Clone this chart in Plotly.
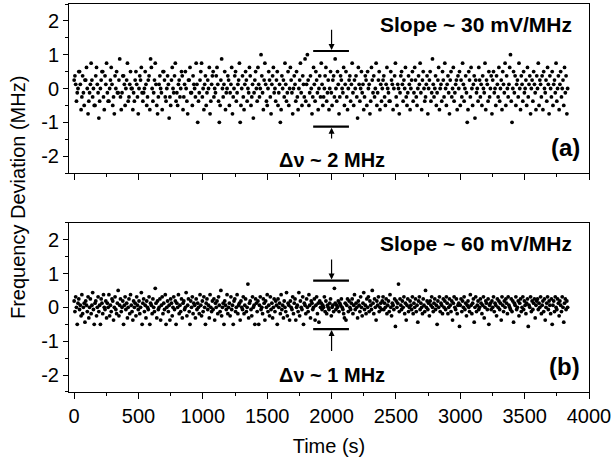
import plotly.graph_objects as go

# ---------------- data ----------------
SAMPLE_STEP_S = 6          # sampling interval (s)
STEP_A_MHZ = 0.125         # quantisation step, panel (a)
STEP_B_MHZ = 0.0625        # quantisation step, panel (b)

# panel (a): frequency deviation in quantisation steps
dev_a_steps = [
    2,3,1,-3,-1,0,4,4,1,-5,-2,3,-1,-4,2,2,5,0,-6,-3,
    -1,1,6,2,-2,0,-4,-4,3,5,1,-1,-7,-3,0,2,4,4,-2,-5,
    3,1,6,-1,-3,-3,0,2,5,1,-4,-2,-6,3,0,4,-1,-1,2,7,
    -2,-5,-1,3,3,1,-4,0,2,6,-3,-2,1,4,0,0,-5,-1,-3,2,
    4,1,-2,-6,0,3,2,5,-1,-3,-1,0,4,1,-4,-2,2,3,-5,7,
    5,0,-3,-1,2,6,1,-4,-6,-2,1,3,0,-1,-5,4,4,2,-2,-3,
    0,3,1,-7,-2,-4,2,5,0,-1,3,6,-3,-1,-4,1,2,-2,0,4,
    3,-5,-2,1,4,0,-3,-6,2,2,5,-1,-1,-4,3,1,0,-2,6,1,
    -8,-3,-1,2,4,6,-2,0,-5,1,3,-4,-1,2,0,5,-6,-3,1,3,
    4,-2,0,-1,3,5,1,-3,-8,-4,2,7,0,-2,1,4,-5,-1,0,3,
    2,-4,-1,1,5,-6,-2,0,3,4,-3,-1,1,2,6,-8,-4,0,3,-2,
    -5,1,4,2,-3,0,-1,5,3,-4,-2,1,-7,-1,2,4,0,-3,5,1,
    -2,0,8,3,-1,-5,2,6,1,-3,-4,0,4,2,-2,-6,1,3,5,-1,
    0,-3,2,4,-4,-1,1,-8,-5,3,0,2,-2,6,1,-3,-1,4,-4,0,
    5,2,-1,-6,0,3,1,-3,4,-2,-5,0,2,6,-1,-4,3,1,-2,7,
    -3,1,8,2,-4,-1,3,0,-6,-2,5,1,-3,4,2,-1,-5,0,3,-2,
    6,1,-4,-2,0,3,5,-3,-1,2,-5,0,4,-1,-4,2,3,-2,7,0,
    -3,4,1,-6,-2,3,2,0,-1,5,-4,1,4,-2,-5,0,2,3,-3,1,
    6,-1,-4,2,0,3,-2,-7,5,1,-3,0,4,-1,1,-5,-2,3,2,-4,
    4,0,1,-6,-3,5,2,-1,3,-2,0,6,-4,-1,2,4,-5,1,-3,0,
    2,3,-2,-4,1,5,0,-1,-3,-3,4,2,1,-5,0,3,6,-2,-4,1,
    0,-6,-1,3,4,1,-3,2,0,5,-2,-4,-1,3,1,-5,0,2,4,-3,
    -1,5,2,-2,-4,0,3,1,6,-1,-5,2,4,0,-3,-2,1,3,-6,0,
    2,4,-3,-1,7,1,-2,0,3,-4,-1,2,5,-5,0,1,-3,4,2,-2,
    6,0,-4,1,3,-1,-6,2,4,-2,0,5,-3,-1,1,2,-5,3,0,4,
    -4,2,-2,6,1,-3,0,3,-1,-8,-5,4,2,-2,5,0,-4,1,3,-7,
    2,-1,0,-3,5,2,-2,1,-4,3,0,-1,6,-5,2,1,-3,4,-2,0,
    3,-6,2,4,-1,0,-4,3,1,-2,5,-3,0,2,-5,4,1,-1,6,-4,
    3,0,-2,1,5,8,-3,-8,0,4,-1,3,-4,1,2,-2,6,0,-5,3,
    1,-3,4,-1,0,2,-4,5,-2,1,3,-6,0,2,-3,4,1,-1,-5,3,
    0,6,-4,2,1,-2,3,-5,4,0,-1,2,-3,5,1,-6,3,0,-2,4,
    -4,1,2,-1,6,-3,0,3,-5,1,4,-2,0,2,-4,5,-1,3,-6,0,
]

# panel (b): frequency deviation in quantisation steps
dev_b_steps = [
    3,-2,5,0,-8,2,4,-1,1,-4,6,-3,0,2,-7,3,1,-2,5,-5,
    0,4,-3,1,7,-1,-8,2,3,-4,0,5,-2,1,-8,4,2,-3,6,0,
    -1,3,-5,2,0,6,-4,1,-2,4,3,-6,0,5,-1,-3,2,8,-4,1,
    4,-2,0,3,-8,1,5,-1,2,-5,0,4,-3,6,1,-2,-6,3,0,2,
    -4,5,1,-1,3,-3,0,7,-8,2,4,-2,1,-5,3,0,-1,5,-8,2,
    1,-3,4,0,-2,9,2,-5,3,-1,0,4,-6,1,5,-3,2,-1,6,-8,
    0,3,-2,1,-6,4,2,-4,0,5,-1,3,-8,2,0,6,-3,1,-2,4,
    -5,2,3,-1,0,7,-4,1,4,-2,-8,3,0,5,-3,2,1,-5,4,-1,
    2,0,-3,6,1,-4,3,-2,5,0,-8,2,4,-1,1,-5,6,0,-2,3,
    -1,4,-6,2,0,3,-3,5,1,-2,8,-4,0,2,-8,3,1,-1,6,-3,
    0,2,-4,5,-1,1,-8,3,4,-2,0,6,-3,1,2,-6,3,0,-1,5,
    -3,1,4,-2,0,11,-5,2,3,-1,-4,5,0,1,-8,4,2,-2,3,-8,
    1,5,-1,0,-3,4,2,-6,3,0,6,-2,1,-4,5,-1,2,-5,0,4,
    -2,3,1,-8,4,0,2,-3,6,-1,1,-5,3,0,-2,7,-4,2,1,-6,
    3,0,-1,5,-3,2,4,-6,0,1,-2,7,-4,3,0,-1,5,-8,2,1,
    -3,4,0,-2,6,1,-5,3,2,-1,0,4,-6,1,5,-3,2,-7,3,0,
    2,-1,1,0,5,-2,3,-3,1,0,-1,2,4,-4,0,1,-2,9,2,-1,
    1,0,3,-2,2,1,4,0,-1,-3,-5,2,-6,1,4,-2,3,0,-1,2,
    4,-3,1,6,-1,2,0,-5,3,1,-2,5,0,-4,2,7,-1,1,-3,4,
    0,5,-2,3,1,-1,8,2,-3,4,0,-6,3,1,5,-2,0,2,-1,3,
    5,-1,2,0,4,-3,1,3,-2,6,0,-4,2,1,-1,4,-9,3,0,2,
    11,-2,4,1,-1,3,0,5,-3,2,-6,1,4,-2,0,3,1,-1,5,-3,
    2,0,4,-2,1,-7,3,5,-1,2,0,-3,4,1,-2,8,0,3,-1,2,
    -4,3,1,5,0,-2,2,4,-1,1,-8,3,0,5,-2,2,1,-3,4,0,
    3,-1,5,2,-3,0,4,1,-2,3,-6,2,5,0,-1,4,-3,1,2,-9,
    1,4,-2,3,0,5,-1,2,-4,1,3,0,-2,6,1,-3,2,4,-7,0,
    5,-2,1,3,-1,0,4,2,-3,1,5,-5,0,3,2,-1,4,-8,1,2,
    -1,3,0,5,-2,2,1,-4,4,0,3,-1,2,-6,5,1,-2,3,0,4,
    2,-3,5,1,0,-1,4,-2,3,-7,2,1,5,-1,0,3,-4,2,4,-2,
    0,5,-1,3,1,-3,2,4,-9,1,0,5,-2,3,-1,2,4,-5,1,3,
    4,-1,2,0,5,-3,1,3,-2,4,-6,0,2,5,-1,3,1,-3,4,-8,
    1,3,-2,5,0,-1,4,2,-4,3,1,-2,5,0,-7,2,4,-1,3,0,
]

time_a = [i * SAMPLE_STEP_S for i in range(len(dev_a_steps))]
time_b = [i * SAMPLE_STEP_S for i in range(len(dev_b_steps))]
dev_a = [v * STEP_A_MHZ for v in dev_a_steps]
dev_b = [v * STEP_B_MHZ for v in dev_b_steps]

x_ticks = [0, 500, 1000, 1500, 2000, 2500, 3000, 3500, 4000]
y_ticks = [-2, -1, 0, 1, 2]

# ---------------- figure ----------------
FONT = "Liberation Sans, Arial, sans-serif"
marker = dict(color="black", size=3.8, symbol="circle", line=dict(width=0))

fig = go.Figure()
fig.add_trace(go.Scatter(x=time_a, y=dev_a, mode="markers", marker=marker,
                         xaxis="x", yaxis="y", showlegend=False))
fig.add_trace(go.Scatter(x=time_b, y=dev_b, mode="markers", marker=marker,
                         xaxis="x2", yaxis="y2", showlegend=False))

def xax(show_labels, anchor):
    return dict(domain=[0, 1], anchor=anchor, range=[-40, 4000], automargin=False,
                tickmode="array", tickvals=x_ticks, ticktext=[str(v) for v in x_ticks],
                showticklabels=show_labels, ticks="outside", ticklen=6, tickwidth=1,
                tickcolor="black",
                minor=dict(dtick=250, tick0=0, ticks="outside", ticklen=3, tickcolor="black"),
                showline=True, linecolor="black", linewidth=1, mirror=True,
                showgrid=False, zeroline=False,
                tickfont=dict(family=FONT, size=20, color="black"))

def yax(domain, anchor):
    return dict(domain=domain, anchor=anchor, range=[-2.5, 2.5], automargin=False,
                tickmode="array", tickvals=y_ticks, ticktext=[str(v) for v in y_ticks],
                ticks="outside", ticklen=5, tickwidth=1, tickcolor="black",
                minor=dict(dtick=0.5, tick0=0, ticks="outside", ticklen=3, tickcolor="black"),
                showline=True, linecolor="black", linewidth=1, mirror=True,
                showgrid=False, zeroline=False,
                tickfont=dict(family=FONT, size=20, color="black"))

xa2 = xax(True, "y2")
xa2["title"] = dict(text="Time (s)", font=dict(family=FONT, size=20, color="black"), standoff=12)

fig.update_layout(
    template="none",
    width=615, height=464,
    margin=dict(l=69, r=26, t=4, b=72, pad=0),
    paper_bgcolor="white", plot_bgcolor="white",
    xaxis=xax(False, "y"),
    yaxis=yax([0.5644, 1.0], "x"),
    xaxis2=xa2,
    yaxis2=yax([0.0, 0.4363], "x2"),
)

ann = []
ann.append(dict(text="Frequency Deviation (MHz)", xref="paper", yref="paper",
                x=-0.098, y=0.5, textangle=-90, showarrow=False,
                xanchor="center", yanchor="middle",
                font=dict(family=FONT, size=20, color="black")))

panels = [
    dict(xr="x", yr="y", slope="Slope ~ 30 mV/MHz", lab="(a)", dnu="Δν ~ 2 MHz",
         bar_top=1.11, bar_bot=-1.13, tail_top=1.78, tail_bot=-1.52,
         dnu_y=-2.12, lab_y=-1.74, slope_y=1.9),
    dict(xr="x2", yr="y2", slope="Slope ~ 60 mV/MHz", lab="(b)", dnu="Δν ~ 1 MHz",
         bar_top=0.79, bar_bot=-0.64, tail_top=1.46, tail_bot=-1.33,
         dnu_y=-2.0, lab_y=-1.76, slope_y=1.89),
]
shapes = []
for p in panels:
    ann.append(dict(text="<b>%s</b>" % p["slope"], xref=p["xr"], yref=p["yr"],
                    x=3887, y=p["slope_y"], xanchor="right", yanchor="middle",
                    showarrow=False, font=dict(family=FONT, size=21, color="black")))
    ann.append(dict(text="<b>%s</b>" % p["lab"], xref=p["xr"], yref=p["yr"],
                    x=3945, y=p["lab_y"], xanchor="right", yanchor="middle",
                    showarrow=False, font=dict(family=FONT, size=24, color="black")))
    ann.append(dict(text="<b>%s</b>" % p["dnu"], xref=p["xr"], yref=p["yr"],
                    x=2000, y=p["dnu_y"], xanchor="center", yanchor="middle",
                    showarrow=False, font=dict(family=FONT, size=20, color="black")))
    for tip, tail in [(p["bar_top"] + 0.03, p["tail_top"]), (p["bar_bot"] - 0.03, p["tail_bot"])]:
        ann.append(dict(text="", xref=p["xr"], yref=p["yr"], axref=p["xr"], ayref=p["yr"],
                        x=2000, y=tip, ax=2000, ay=tail, showarrow=True,
                        arrowhead=2, arrowsize=1, arrowwidth=1.2, arrowcolor="black"))
    for yb in (p["bar_top"], p["bar_bot"]):
        shapes.append(dict(type="line", xref=p["xr"], yref=p["yr"],
                           x0=1857, x1=2135, y0=yb, y1=yb,
                           line=dict(color="black", width=2.2)))

fig.update_layout(annotations=ann, shapes=shapes)
fig.write_html("out.html", config={"displayModeBar": False},
               post_script="document.body.style.margin='0';document.body.style.padding='0';")
